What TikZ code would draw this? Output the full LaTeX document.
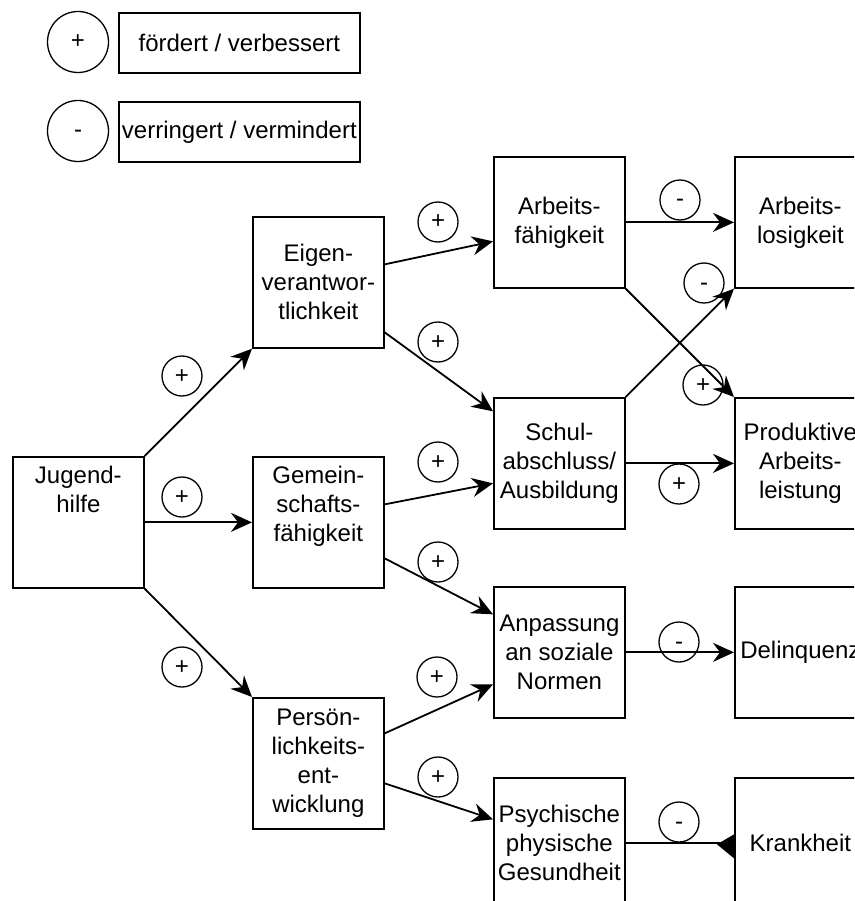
\documentclass[tikz,border=0pt]{standalone}
\usepackage{fontspec}
\setmainfont{Liberation Sans}
\usetikzlibrary{arrows.meta,calc}
\begin{document}
\begin{tikzpicture}[x=1pt,y=-1pt,
  font=\fontsize{24}{29}\selectfont,
  box/.style={draw, line width=1.7pt, minimum width=131pt, minimum height=131pt,
    inner sep=0pt, anchor=north west, align=center},
  legbox/.style={draw, line width=1.7pt, minimum width=241pt, minimum height=60pt,
    inner sep=0pt, anchor=north west},
  sign/.style={draw, circle, line width=1.3pt, minimum size=40pt, inner sep=0pt,
    text height=17pt, text depth=3pt},
  bigsign/.style={sign, minimum size=61pt},
  link/.style={line width=1.8pt, -{Stealth[length=21pt,width=19pt,inset=7pt]}},
  plain/.style={line width=1.8pt},
]
\useasboundingbox (0,0) rectangle (854,901);
\clip (0,0) rectangle (854,901);

% legend
\node[bigsign] (lp) at (78,42) {+};
\node[legbox] (lpt) at (118,12) {fördert / verbessert};
\node[bigsign] (lm) at (78,131) {-};
\node[legbox] (lmt) at (118,101) {verringert / vermindert};

% boxes
\node[box] (jh)    at (12,456)  {Jugend-\\hilfe\\\strut\\\strut};
\node[box] (eig)   at (252,216) {Eigen-\\verantwor-\\tlichkeit};
\node[box] (gem)   at (252,456) {Gemein-\\schafts-\\fähigkeit\\\strut};
\node[box] (per)   at (252,697) {Persön-\\lichkeits-\\ent-\\wicklung};
\node[box] (arb)   at (493,156) {Arbeits-\\fähigkeit};
\node[box] (schul) at (493,397) {Schul-\\abschluss/\\Ausbildung};
\node[box] (anp)   at (493,586) {Anpassung\\an soziale\\Normen};
\node[box] (psy)   at (493,777) {Psychische\\physische\\Gesundheit};
\node[box] (alos)  at (734,156) {Arbeits-\\losigkeit};
\node[box] (prod)  at (734,397) {Produktive\\Arbeits-\\leistung};
\node[box] (del)   at (734,586) {Delinquenz};
\node[box] (krank) at (734,777) {Krankheit};

% connectors
\draw[link] (jh.north east) -- (eig.south west);
\draw[link] (jh.east) -- (gem.west);
\draw[link] (jh.south east) -- (per.north west);
\draw[link] ($(eig.east)+(0,-18)$) -- ($(arb.west)+(0,19)$);
\draw[link] ($(eig.east)+(0,50)$) -- ($(schul.west)+(0,-52)$);
\draw[link] ($(gem.east)+(0,-18)$) -- ($(schul.west)+(0,20)$);
\draw[link] ($(gem.east)+(0,36)$) -- ($(anp.west)+(0,-38)$);
\draw[link] ($(per.east)+(0,-30)$) -- ($(anp.west)+(0,32)$);
\draw[link] ($(per.east)+(0,20)$) -- ($(psy.west)+(0,-24)$);
\draw[link] (arb.east) -- (alos.west);
\draw[link] (arb.south east) -- (prod.north west);
\draw[link] (schul.north east) -- (alos.south west);
\draw[link] (schul.east) -- (prod.west);
\draw[link] (anp.east) -- (del.west);
\draw[plain] (psy.east) -- (krank.west);
\coordinate (kt) at (krank.west);
\fill ($(kt)+(-17,1)$) -- ($(kt)+(0,-9)$) -- ($(kt)+(0,15)$) -- cycle;

% effect markers
\node[sign] (s1)  at (182,376) {+};
\node[sign] (s2)  at (182,497) {+};
\node[sign] (s3)  at (182,667) {+};
\node[sign] (s4)  at (438,222) {+};
\node[sign] (s5)  at (438,342) {+};
\node[sign] (s6)  at (438,462) {+};
\node[sign] (s7)  at (438,562) {+};
\node[sign] (s8)  at (437,677) {+};
\node[sign] (s9)  at (438,777) {+};
\node[sign] (s10) at (680,200) {-};
\node[sign] (s11) at (703,385) {+};
\node[sign] (s12) at (704,283) {-};
\node[sign] (s13) at (679,484) {+};
\node[sign] (s14) at (679,642) {-};
\node[sign] (s15) at (679,822) {-};
\end{tikzpicture}
\end{document}
